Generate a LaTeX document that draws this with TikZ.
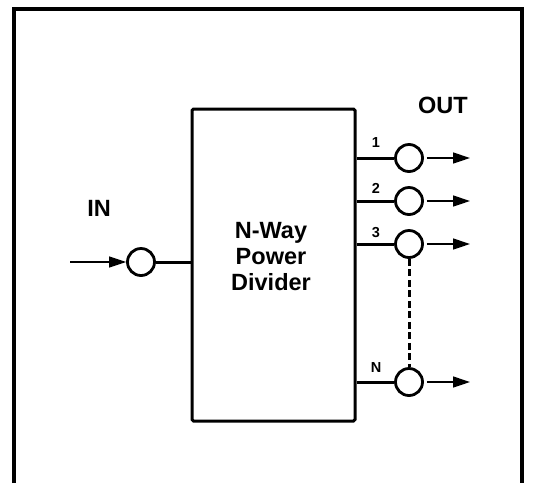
\documentclass[tikz,border=0pt]{standalone}
\usepackage{fontspec}
\setmainfont{Liberation Sans}
\usetikzlibrary{arrows.meta}
\begin{document}
\begin{tikzpicture}[x=1pt,y=-1pt,
  port/.style={circle,draw,line width=2.8pt,minimum size=27pt,inner sep=0pt},
  wire/.style={line width=3pt},
  sig/.style={line width=1.4pt,-{Triangle[length=17pt,width=11pt]}},
  big/.style={font=\fontsize{23.5}{26}\selectfont\bfseries},
  small/.style={font=\fontsize{14.5}{16}\selectfont\bfseries,inner sep=0pt}]
\useasboundingbox (0,0) rectangle (540,483);
% outer frame, open at the bottom
\draw[line width=4pt] (14,483) -- (14,9) -- (522,9) -- (522,483);
% divider box
\node[draw,line width=3pt,rounded corners=1.5pt,minimum width=163pt,minimum height=312pt,inner sep=0pt] (box) at (273.5,265) {};
\node[big,align=center,inner sep=0pt] (txt) at (271,257) {N-Way\\Power\\Divider};
% input
\node[port] (in) at (141,262) {};
\coordinate (src) at (70,262);
\draw[sig] (src) -- (in);
\draw[wire] (in) -- (box.west |- in);
\node[big,inner sep=0pt] (inlbl) at (99,208) {IN};
% outputs
\node[port] (p1) at (409,158) {};
\node[port] (p2) at (409,201) {};
\node[port] (p3) at (409,244) {};
\node[port] (pN) at (409,382) {};
\foreach \p in {p1,p2,p3,pN}{
  \draw[wire] (box.east |- \p) -- (\p);
  \coordinate (\p t) at (470,0 |- \p);
  \draw[sig] (\p.east) ++(3,0) -- (\p t);
}
\node[small] (l1) at (376,143) {1};
\node[small] (l2) at (376,188) {2};
\node[small] (l3) at (376,233) {3};
\node[small] (lN) at (376,368) {N};
\node[big,inner sep=0pt] (outlbl) at (443,105) {OUT};
% dashed continuation
\draw[line width=3pt,dash pattern=on 7pt off 3.5pt] (p3.south) -- (pN.north);
\end{tikzpicture}
\end{document}
